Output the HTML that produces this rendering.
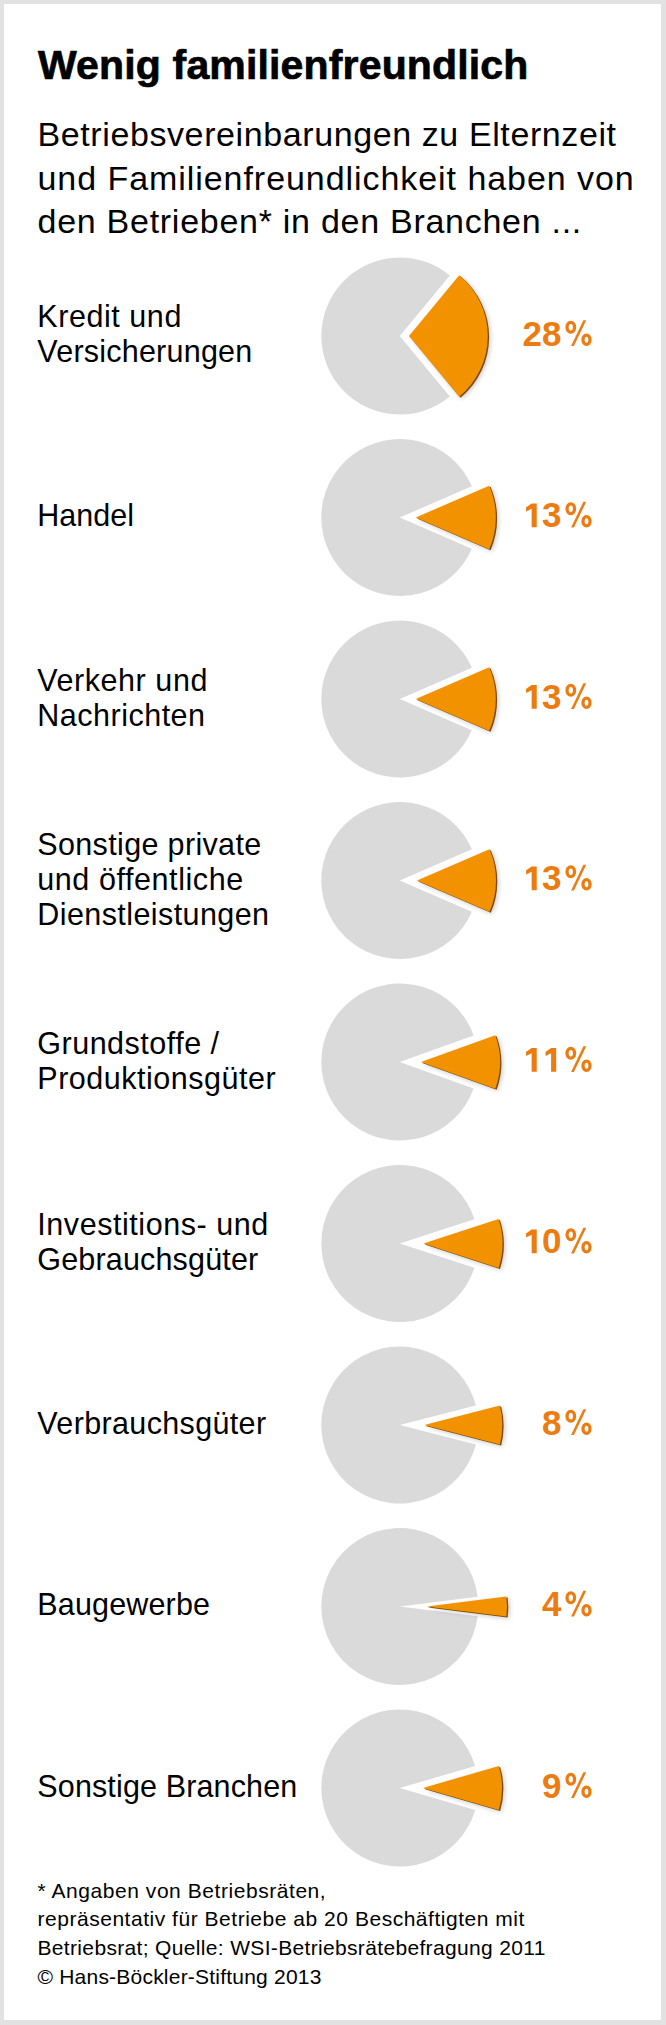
<!DOCTYPE html>
<html><head><meta charset="utf-8"><style>html,body{margin:0;padding:0;width:666px;height:2025px;overflow:hidden;background:#e2e2e2}</style></head>
<body>
<svg width="666" height="2025" viewBox="0 0 666 2025" style="position:absolute;left:0;top:0">
<defs><filter id="blur" x="-20%" y="-20%" width="140%" height="140%"><feGaussianBlur stdDeviation="2.5"/></filter></defs>
<rect x="0" y="0" width="666" height="2025" fill="#e2e2e2"/>
<rect x="4" y="4" width="657" height="2016" fill="#fff"/>
<text x="38" y="79.00" font-family="Liberation Sans, sans-serif" font-weight="700" font-size="41" textLength="490.35" lengthAdjust="spacing" stroke="#000" stroke-width="0.7" fill="#000">Wenig familienfreundlich</text>
<text x="37.5" y="145.80" font-family="Liberation Sans, sans-serif" font-weight="400" font-size="34" textLength="578.55" lengthAdjust="spacing" fill="#000">Betriebsvereinbarungen zu Elternzeit</text>
<text x="37.5" y="190.20" font-family="Liberation Sans, sans-serif" font-weight="400" font-size="34" textLength="596.25" lengthAdjust="spacing" fill="#000">und Familienfreundlichkeit haben von</text>
<text x="37.5" y="233.20" font-family="Liberation Sans, sans-serif" font-weight="400" font-size="34" textLength="543.81" lengthAdjust="spacing" fill="#000">den Betrieben* in den Branchen ...</text>
<path d="M399.80,336.00 L449.84,396.49 A78.5,78.5 0 1,1 449.84,275.51 Z" fill="#dadada"/>
<path d="M409.00,336.00 L459.23,275.28 A78.8,78.8 0 0,1 459.23,396.72 Z" fill="#000" opacity="0.22" filter="url(#blur)" transform="translate(2.5,2)"/>
<path d="M409.00,336.00 L459.23,275.28 A78.8,78.8 0 0,1 459.23,396.72 Z" fill="#7a4a00" transform="translate(1.3,1)"/>
<path d="M409.00,336.00 L459.23,275.28 A78.8,78.8 0 0,1 459.23,396.72 Z" fill="#f39200"/>
<text x="37.3" y="326.50" font-family="Liberation Sans, sans-serif" font-weight="400" font-size="30.5" textLength="144.05" lengthAdjust="spacing" fill="#000">Kredit und</text>
<text x="37.3" y="361.50" font-family="Liberation Sans, sans-serif" font-weight="400" font-size="30.5" textLength="214.95" lengthAdjust="spacing" fill="#000">Versicherungen</text>
<text x="542.04" y="345.80" text-anchor="end" font-family="Liberation Sans, sans-serif" font-weight="700" font-size="35" fill="#ec7b12">2</text>
<text x="561.50" y="345.80" text-anchor="end" font-family="Liberation Sans, sans-serif" font-weight="700" font-size="35" fill="#ec7b12">8</text>
<g fill="none" stroke="#ec7b12"><ellipse cx="570.80" cy="327.30" rx="3.75" ry="4.85" stroke-width="3.3"/><ellipse cx="586.50" cy="339.70" rx="3.5" ry="4.65" stroke-width="3.3"/></g>
<path d="M571.10,346.00 L573.90,346.00 L586.20,320.20 L583.40,320.20 Z" fill="#ec7b12"/>
<path d="M399.80,517.50 L471.84,548.68 A78.5,78.5 0 1,1 471.84,486.32 Z" fill="#dadada"/>
<path d="M415.80,517.50 L489.22,485.73 A80,80 0 0,1 489.22,549.27 Z" fill="#000" opacity="0.22" filter="url(#blur)" transform="translate(2.5,2)"/>
<path d="M415.80,517.50 L489.22,485.73 A80,80 0 0,1 489.22,549.27 Z" fill="#7a4a00" transform="translate(1.3,1)"/>
<path d="M415.80,517.50 L489.22,485.73 A80,80 0 0,1 489.22,549.27 Z" fill="#f39200"/>
<text x="37.3" y="526.30" font-family="Liberation Sans, sans-serif" font-weight="400" font-size="30.5" textLength="96.66" lengthAdjust="spacing" fill="#000">Handel</text>
<path d="M531.64,527.30 L531.64,508.70 L526.24,511.40 L525.94,507.50 L531.64,503.60 L536.74,503.60 L536.74,527.30 Z" fill="#ec7b12"/>
<text x="561.50" y="527.30" text-anchor="end" font-family="Liberation Sans, sans-serif" font-weight="700" font-size="35" fill="#ec7b12">3</text>
<g fill="none" stroke="#ec7b12"><ellipse cx="570.80" cy="508.80" rx="3.75" ry="4.85" stroke-width="3.3"/><ellipse cx="586.50" cy="521.20" rx="3.5" ry="4.65" stroke-width="3.3"/></g>
<path d="M571.10,527.50 L573.90,527.50 L586.20,501.70 L583.40,501.70 Z" fill="#ec7b12"/>
<path d="M399.80,699.00 L471.84,730.18 A78.5,78.5 0 1,1 471.84,667.82 Z" fill="#dadada"/>
<path d="M415.80,699.00 L489.22,667.23 A80,80 0 0,1 489.22,730.77 Z" fill="#000" opacity="0.22" filter="url(#blur)" transform="translate(2.5,2)"/>
<path d="M415.80,699.00 L489.22,667.23 A80,80 0 0,1 489.22,730.77 Z" fill="#7a4a00" transform="translate(1.3,1)"/>
<path d="M415.80,699.00 L489.22,667.23 A80,80 0 0,1 489.22,730.77 Z" fill="#f39200"/>
<text x="37.3" y="690.70" font-family="Liberation Sans, sans-serif" font-weight="400" font-size="30.5" textLength="170.08" lengthAdjust="spacing" fill="#000">Verkehr und</text>
<text x="37.3" y="725.70" font-family="Liberation Sans, sans-serif" font-weight="400" font-size="30.5" textLength="167.75" lengthAdjust="spacing" fill="#000">Nachrichten</text>
<path d="M531.64,708.80 L531.64,690.20 L526.24,692.90 L525.94,689.00 L531.64,685.10 L536.74,685.10 L536.74,708.80 Z" fill="#ec7b12"/>
<text x="561.50" y="708.80" text-anchor="end" font-family="Liberation Sans, sans-serif" font-weight="700" font-size="35" fill="#ec7b12">3</text>
<g fill="none" stroke="#ec7b12"><ellipse cx="570.80" cy="690.30" rx="3.75" ry="4.85" stroke-width="3.3"/><ellipse cx="586.50" cy="702.70" rx="3.5" ry="4.65" stroke-width="3.3"/></g>
<path d="M571.10,709.00 L573.90,709.00 L586.20,683.20 L583.40,683.20 Z" fill="#ec7b12"/>
<path d="M399.80,880.50 L471.84,911.68 A78.5,78.5 0 1,1 471.84,849.32 Z" fill="#dadada"/>
<path d="M417.00,880.50 L489.50,849.13 A79,79 0 0,1 489.50,911.87 Z" fill="#000" opacity="0.22" filter="url(#blur)" transform="translate(2.5,2)"/>
<path d="M417.00,880.50 L489.50,849.13 A79,79 0 0,1 489.50,911.87 Z" fill="#7a4a00" transform="translate(1.3,1)"/>
<path d="M417.00,880.50 L489.50,849.13 A79,79 0 0,1 489.50,911.87 Z" fill="#f39200"/>
<text x="37.3" y="854.90" font-family="Liberation Sans, sans-serif" font-weight="400" font-size="30.5" textLength="223.92" lengthAdjust="spacing" fill="#000">Sonstige private</text>
<text x="37.3" y="889.90" font-family="Liberation Sans, sans-serif" font-weight="400" font-size="30.5" textLength="205.86" lengthAdjust="spacing" fill="#000">und öffentliche</text>
<text x="37.3" y="924.90" font-family="Liberation Sans, sans-serif" font-weight="400" font-size="30.5" textLength="231.72" lengthAdjust="spacing" fill="#000">Dienstleistungen</text>
<path d="M531.64,890.30 L531.64,871.70 L526.24,874.40 L525.94,870.50 L531.64,866.60 L536.74,866.60 L536.74,890.30 Z" fill="#ec7b12"/>
<text x="561.50" y="890.30" text-anchor="end" font-family="Liberation Sans, sans-serif" font-weight="700" font-size="35" fill="#ec7b12">3</text>
<g fill="none" stroke="#ec7b12"><ellipse cx="570.80" cy="871.80" rx="3.75" ry="4.85" stroke-width="3.3"/><ellipse cx="586.50" cy="884.20" rx="3.5" ry="4.65" stroke-width="3.3"/></g>
<path d="M571.10,890.50 L573.90,890.50 L586.20,864.70 L583.40,864.70 Z" fill="#ec7b12"/>
<path d="M399.80,1062.00 L473.66,1088.59 A78.5,78.5 0 1,1 473.66,1035.41 Z" fill="#dadada"/>
<path d="M421.00,1062.00 L495.33,1035.24 A79,79 0 0,1 495.33,1088.76 Z" fill="#000" opacity="0.22" filter="url(#blur)" transform="translate(2.5,2)"/>
<path d="M421.00,1062.00 L495.33,1035.24 A79,79 0 0,1 495.33,1088.76 Z" fill="#7a4a00" transform="translate(1.3,1)"/>
<path d="M421.00,1062.00 L495.33,1035.24 A79,79 0 0,1 495.33,1088.76 Z" fill="#f39200"/>
<text x="37.3" y="1053.50" font-family="Liberation Sans, sans-serif" font-weight="400" font-size="30.5" textLength="181.77" lengthAdjust="spacing" fill="#000">Grundstoffe /</text>
<text x="37.3" y="1088.50" font-family="Liberation Sans, sans-serif" font-weight="400" font-size="30.5" textLength="238.39" lengthAdjust="spacing" fill="#000">Produktionsgüter</text>
<path d="M531.64,1071.80 L531.64,1053.20 L526.24,1055.90 L525.94,1052.00 L531.64,1048.10 L536.74,1048.10 L536.74,1071.80 Z" fill="#ec7b12"/>
<path d="M551.10,1071.80 L551.10,1053.20 L545.70,1055.90 L545.40,1052.00 L551.10,1048.10 L556.20,1048.10 L556.20,1071.80 Z" fill="#ec7b12"/>
<g fill="none" stroke="#ec7b12"><ellipse cx="570.80" cy="1053.30" rx="3.75" ry="4.85" stroke-width="3.3"/><ellipse cx="586.50" cy="1065.70" rx="3.5" ry="4.65" stroke-width="3.3"/></g>
<path d="M571.10,1072.00 L573.90,1072.00 L586.20,1046.20 L583.40,1046.20 Z" fill="#ec7b12"/>
<path d="M399.80,1243.50 L474.46,1267.76 A78.5,78.5 0 1,1 474.46,1219.24 Z" fill="#dadada"/>
<path d="M423.50,1243.50 L498.63,1219.09 A79,79 0 0,1 498.63,1267.91 Z" fill="#000" opacity="0.22" filter="url(#blur)" transform="translate(2.5,2)"/>
<path d="M423.50,1243.50 L498.63,1219.09 A79,79 0 0,1 498.63,1267.91 Z" fill="#7a4a00" transform="translate(1.3,1)"/>
<path d="M423.50,1243.50 L498.63,1219.09 A79,79 0 0,1 498.63,1267.91 Z" fill="#f39200"/>
<text x="37.3" y="1234.90" font-family="Liberation Sans, sans-serif" font-weight="400" font-size="30.5" textLength="230.89" lengthAdjust="spacing" fill="#000">Investitions- und</text>
<text x="37.3" y="1269.90" font-family="Liberation Sans, sans-serif" font-weight="400" font-size="30.5" textLength="220.92" lengthAdjust="spacing" fill="#000">Gebrauchsgüter</text>
<path d="M531.64,1253.30 L531.64,1234.70 L526.24,1237.40 L525.94,1233.50 L531.64,1229.60 L536.74,1229.60 L536.74,1253.30 Z" fill="#ec7b12"/>
<text x="561.50" y="1253.30" text-anchor="end" font-family="Liberation Sans, sans-serif" font-weight="700" font-size="35" fill="#ec7b12">0</text>
<g fill="none" stroke="#ec7b12"><ellipse cx="570.80" cy="1234.80" rx="3.75" ry="4.85" stroke-width="3.3"/><ellipse cx="586.50" cy="1247.20" rx="3.5" ry="4.65" stroke-width="3.3"/></g>
<path d="M571.10,1253.50 L573.90,1253.50 L586.20,1227.70 L583.40,1227.70 Z" fill="#ec7b12"/>
<path d="M399.80,1425.00 L475.83,1444.52 A78.5,78.5 0 1,1 475.83,1405.48 Z" fill="#dadada"/>
<path d="M424.30,1425.00 L499.85,1405.60 A78,78 0 0,1 499.85,1444.40 Z" fill="#000" opacity="0.22" filter="url(#blur)" transform="translate(2.5,2)"/>
<path d="M424.30,1425.00 L499.85,1405.60 A78,78 0 0,1 499.85,1444.40 Z" fill="#7a4a00" transform="translate(1.3,1)"/>
<path d="M424.30,1425.00 L499.85,1405.60 A78,78 0 0,1 499.85,1444.40 Z" fill="#f39200"/>
<text x="37.3" y="1433.90" font-family="Liberation Sans, sans-serif" font-weight="400" font-size="30.5" textLength="228.81" lengthAdjust="spacing" fill="#000">Verbrauchsgüter</text>
<text x="561.50" y="1434.80" text-anchor="end" font-family="Liberation Sans, sans-serif" font-weight="700" font-size="35" fill="#ec7b12">8</text>
<g fill="none" stroke="#ec7b12"><ellipse cx="570.80" cy="1416.30" rx="3.75" ry="4.85" stroke-width="3.3"/><ellipse cx="586.50" cy="1428.70" rx="3.5" ry="4.65" stroke-width="3.3"/></g>
<path d="M571.10,1435.00 L573.90,1435.00 L586.20,1409.20 L583.40,1409.20 Z" fill="#ec7b12"/>
<path d="M399.80,1606.50 L477.68,1616.34 A78.5,78.5 0 1,1 477.68,1596.66 Z" fill="#dadada"/>
<path d="M426.50,1606.50 L506.37,1596.41 A80.5,80.5 0 0,1 506.37,1616.59 Z" fill="#000" opacity="0.22" filter="url(#blur)" transform="translate(2.5,2)"/>
<path d="M426.50,1606.50 L506.37,1596.41 A80.5,80.5 0 0,1 506.37,1616.59 Z" fill="#7a4a00" transform="translate(1.3,1)"/>
<path d="M426.50,1606.50 L506.37,1596.41 A80.5,80.5 0 0,1 506.37,1616.59 Z" fill="#f39200"/>
<text x="37.3" y="1614.50" font-family="Liberation Sans, sans-serif" font-weight="400" font-size="30.5" textLength="172.67" lengthAdjust="spacing" fill="#000">Baugewerbe</text>
<text x="561.50" y="1616.30" text-anchor="end" font-family="Liberation Sans, sans-serif" font-weight="700" font-size="35" fill="#ec7b12">4</text>
<g fill="none" stroke="#ec7b12"><ellipse cx="570.80" cy="1597.80" rx="3.75" ry="4.85" stroke-width="3.3"/><ellipse cx="586.50" cy="1610.20" rx="3.5" ry="4.65" stroke-width="3.3"/></g>
<path d="M571.10,1616.50 L573.90,1616.50 L586.20,1590.70 L583.40,1590.70 Z" fill="#ec7b12"/>
<path d="M399.80,1788.00 L475.18,1809.90 A78.5,78.5 0 1,1 475.18,1766.10 Z" fill="#dadada"/>
<path d="M423.00,1788.00 L498.86,1765.96 A79,79 0 0,1 498.86,1810.04 Z" fill="#000" opacity="0.22" filter="url(#blur)" transform="translate(2.5,2)"/>
<path d="M423.00,1788.00 L498.86,1765.96 A79,79 0 0,1 498.86,1810.04 Z" fill="#7a4a00" transform="translate(1.3,1)"/>
<path d="M423.00,1788.00 L498.86,1765.96 A79,79 0 0,1 498.86,1810.04 Z" fill="#f39200"/>
<text x="37.3" y="1796.60" font-family="Liberation Sans, sans-serif" font-weight="400" font-size="30.5" textLength="259.93" lengthAdjust="spacing" fill="#000">Sonstige Branchen</text>
<text x="561.50" y="1797.80" text-anchor="end" font-family="Liberation Sans, sans-serif" font-weight="700" font-size="35" fill="#ec7b12">9</text>
<g fill="none" stroke="#ec7b12"><ellipse cx="570.80" cy="1779.30" rx="3.75" ry="4.85" stroke-width="3.3"/><ellipse cx="586.50" cy="1791.70" rx="3.5" ry="4.65" stroke-width="3.3"/></g>
<path d="M571.10,1798.00 L573.90,1798.00 L586.20,1772.20 L583.40,1772.20 Z" fill="#ec7b12"/>
<text x="37.5" y="1897.50" font-family="Liberation Sans, sans-serif" font-weight="400" font-size="21" textLength="288.20" lengthAdjust="spacing" fill="#000">* Angaben von Betriebsräten,</text>
<text x="37.5" y="1926.30" font-family="Liberation Sans, sans-serif" font-weight="400" font-size="21" textLength="486.89" lengthAdjust="spacing" fill="#000">repräsentativ für Betriebe ab 20 Beschäftigten mit</text>
<text x="37.5" y="1955.10" font-family="Liberation Sans, sans-serif" font-weight="400" font-size="21" textLength="507.85" lengthAdjust="spacing" fill="#000">Betriebsrat; Quelle: WSI-Betriebsrätebefragung 2011</text>
<text x="37.5" y="1983.90" font-family="Liberation Sans, sans-serif" font-weight="400" font-size="21" textLength="283.91" lengthAdjust="spacing" fill="#000">© Hans-Böckler-Stiftung 2013</text>
</svg>
</body></html>
